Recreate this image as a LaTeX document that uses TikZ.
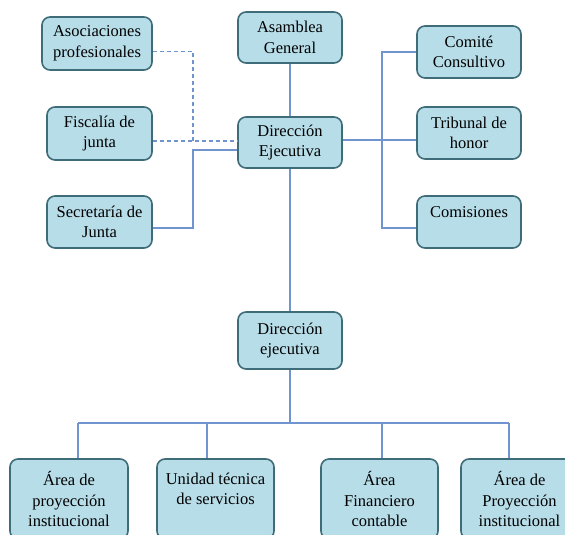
\documentclass[tikz,border=0pt]{standalone}
\usepackage{fontspec}
\setmainfont{Liberation Serif}
\usepackage{tikz}
\definecolor{cajafondo}{HTML}{B7DDE8}
\definecolor{cajaborde}{HTML}{3E6C78}
\definecolor{linea}{HTML}{7094CF}
\begin{document}
\begin{tikzpicture}[x=1pt,y=-1pt,
    caja/.style={draw=cajaborde,line width=1.6pt,fill=cajafondo,rounded corners=8pt,
        align=center,inner sep=0pt,font=\fontsize{16.5}{20.5}\selectfont},
    conector/.style={draw=linea,line width=1.1pt},
    punteada/.style={conector,dash pattern=on 4pt off 3pt}]
                    \useasboundingbox (0,0) rectangle (565,535);
                    \path
                    (290,37.5) node[caja,minimum width=104pt,minimum height=51pt](asam) {Asamblea\\General}
                    (290,142.5) node[caja,minimum width=104pt,minimum height=51pt](dir) {Dirección\\Ejecutiva}
                    (97,43.5) node[caja,minimum width=110pt,minimum height=53pt](aso) {Asociaciones\\profesionales}
                    (99.5,133.5) node[caja,minimum width=105pt,minimum height=53pt](fis) {Fiscalía de\\junta}
                    (99.5,222) node[caja,minimum width=105pt,minimum height=52pt](sec) {Secretaría de\\Junta}
                    (469,52) node[caja,minimum width=104pt,minimum height=52pt](com) {Comité\\Consultivo}
                    (469,133) node[caja,minimum width=104pt,minimum height=52pt](tri) {Tribunal de\\honor}
                    (469,222) node[caja,minimum width=104pt,minimum height=52pt](cms) {Comisiones\\\mbox{}}
                    (290,340.5) node[caja,minimum width=104pt,minimum height=57pt](dej) {Dirección\\ejecutiva}
                    (69,499) node[caja,minimum width=118pt,minimum height=80pt](u1) {Área de\\proyección\\institucional}
                    (215.5,499) node[caja,minimum width=117pt,minimum height=80pt](u2) {Unidad técnica\\de servicios\\\mbox{}}
                    (379.5,499) node[caja,minimum width=117pt,minimum height=80pt](u3) {Área\\Financiero\\contable}
                    (519.5,499) node[caja,minimum width=117pt,minimum height=80pt](u4) {Área de\\Proyección\\institucional};

                    \coordinate (lx) at (193,141);
                    \coordinate (ly) at (193,150);
                    \coordinate (rx) at (382,140);
                    \coordinate (bus) at (290,423);
                    \coordinate (b1) at (78,423);
                    \coordinate (b2) at (207,423);
                    \coordinate (b3) at (382,423);
                    \coordinate (b4) at (509,423);

                    \draw[conector] (asam) -- (dir);
                    \draw[conector] (dir) -- (dej);
                    \draw[punteada] ([yshift=-8pt]aso.east) -| (lx);
                    \draw[punteada] (fis.east |- lx) -- (dir.west |- lx);
                    \draw[conector] (dir.west |- ly) -- (ly) |- ([yshift=-6pt]sec.east);
                    \draw[conector] (dir.east |- rx) -- (tri.west |- rx);
                    \draw[conector] (com.west) -| (rx) |- ([yshift=-6pt]cms.west);
                    \draw[conector] (dej) -- (bus);
                    \draw[conector] (b1) -- (b4);
                    \draw[conector] (b1) -- (b1 |- u1.north);
                    \draw[conector] (b2) -- (b2 |- u2.north);
                    \draw[conector] (b3) -- (b3 |- u3.north);
                    \draw[conector] (b4) -- (b4 |- u4.north);
                \end{tikzpicture}
\end{document}
